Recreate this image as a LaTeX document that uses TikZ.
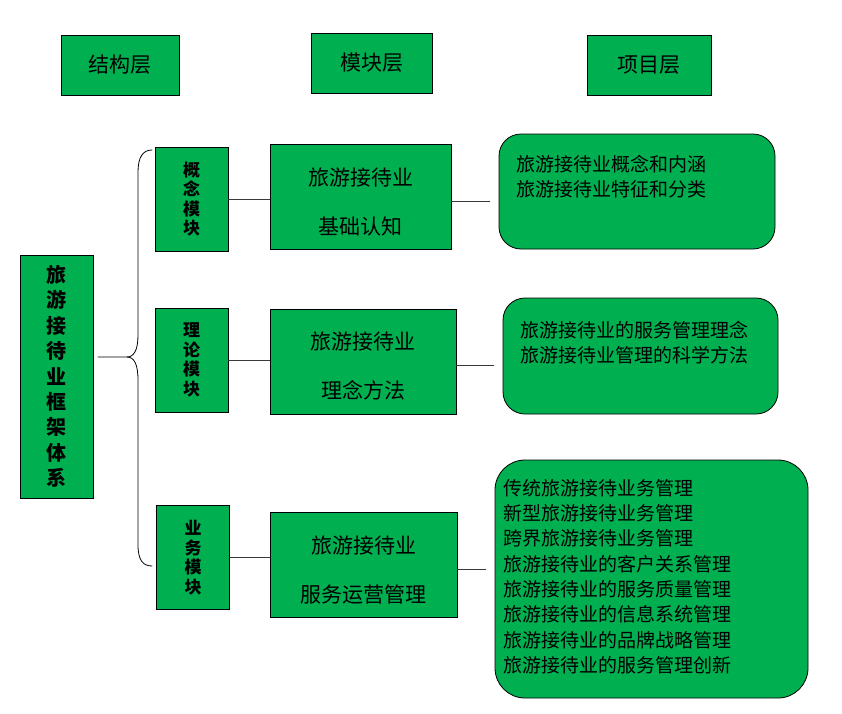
\documentclass[tikz,border=0pt]{standalone}
\usepackage{fontspec}
\setmainfont{Noto Sans CJK SC}
\usetikzlibrary{calc}
\definecolor{verde}{HTML}{00B050}
\definecolor{linea}{HTML}{3A3A3A}

\begin{document}
\begin{tikzpicture}[x=1pt, y=-1pt, line cap=round,
	box/.style={draw=black, fill=verde, line width=0.8pt, inner sep=0pt},
	tbox/.style={box, rounded corners=22pt},
	conn/.style={draw=linea, line width=0.9pt},
	brace/.style={draw=black, line width=0.8pt},
	item/.style={inner sep=0pt, align=left, font=\fontsize{19}{25.3}\selectfont}]

	\useasboundingbox (0,0) rectangle (842,713);

	% ---- intestazioni dei livelli ----
	\foreach \n/\x/\y/\w/\t in {h1/120/65/118/结构层, h2/371.5/63/121/模块层, h3/649/65/124/项目层}
	\node[box, minimum width=\w pt, minimum height=60pt,
		font=\fontsize{21}{25}\selectfont] (\n) at (\x,\y) {\t};

	% ---- nodo radice ----
	\node[box, minimum width=73pt, minimum height=243pt, align=center,
		font=\bfseries\fontsize{20}{25.4}\selectfont] (root) at (56.5,376.5)
		{旅\\游\\接\\待\\业\\框\\架\\体\\系};

	% ---- moduli ----
	\foreach \n/\x/\y/\a/\b in {m1/191.5/199/概/念, m2/191.5/360/理/论, m3/193/557.5/业/务}
	\node[box, minimum width=73pt, minimum height=104pt, align=center,
		font=\bfseries\fontsize{17}{19.5}\selectfont] (\n) at (\x,\y) {\a\\\b\\模\\块};

	% ---- secondo livello ----
	\foreach \n/\x/\y/\w/\t in {s1/360.5/197/181/基础认知, s2/363/361.5/186/理念方法, s3/363.5/565/187/服务运营管理}
	\node[box, minimum width=\w pt, minimum height=105pt, align=center,
		font=\fontsize{21}{49}\selectfont] (\n) at (\x,\y) {\rule{0pt}{27pt}旅游接待业\\\t};

	% ---- progetti (riquadri arrotondati) ----
	\node[tbox, minimum width=276pt, minimum height=115pt] (t1) at (637,191.5) {};
	\node[tbox, minimum width=275pt, minimum height=116pt] (t2) at (640.5,356) {};
	\node[tbox, rounded corners=30pt, minimum width=313pt, minimum height=238pt] (t3) at (651.5,579) {};

	\node[item, anchor=north west] (t1txt) at (516,155)
	{旅游接待业概念和内涵\\旅游接待业特征和分类};
	\node[item, anchor=north west] (t2txt) at (520,321)
	{旅游接待业的服务管理理念\\旅游接待业管理的科学方法};
	\node[item, anchor=north west] (t3txt) at (503,479)
	{传统旅游接待业务管理\\新型旅游接待业务管理\\跨界旅游接待业务管理\\
		旅游接待业的客户关系管理\\旅游接待业的服务质量管理\\旅游接待业的信息系统管理\\
		旅游接待业的品牌战略管理\\旅游接待业的服务管理创新};

	% ---- parentesi graffa ----
	\coordinate (rootout) at (98,357);
	\coordinate (tip) at (127,357);
	\draw[brace] (rootout) -- (tip)
	.. controls (134,357) and (138,350) .. (138,335) -- (138,172)
	.. controls (138,157) and (143,150) .. (152,150);
	\draw[brace] (tip)
	.. controls (134,357) and (138,364) .. (138,380) -- (138,545)
	.. controls (138,560) and (143,566) .. (152,566);

	% ---- collegamenti ----
	\foreach \i in {1,2,3}{
			\draw[conn] (m\i.east) -- (m\i.east -| s\i.west);
			\draw[conn, shorten >=9pt] ($(s\i.east)+(0,4)$) -- ($(s\i.east -| t\i.west)+(0,4)$);
		}

\end{tikzpicture}
\end{document}
